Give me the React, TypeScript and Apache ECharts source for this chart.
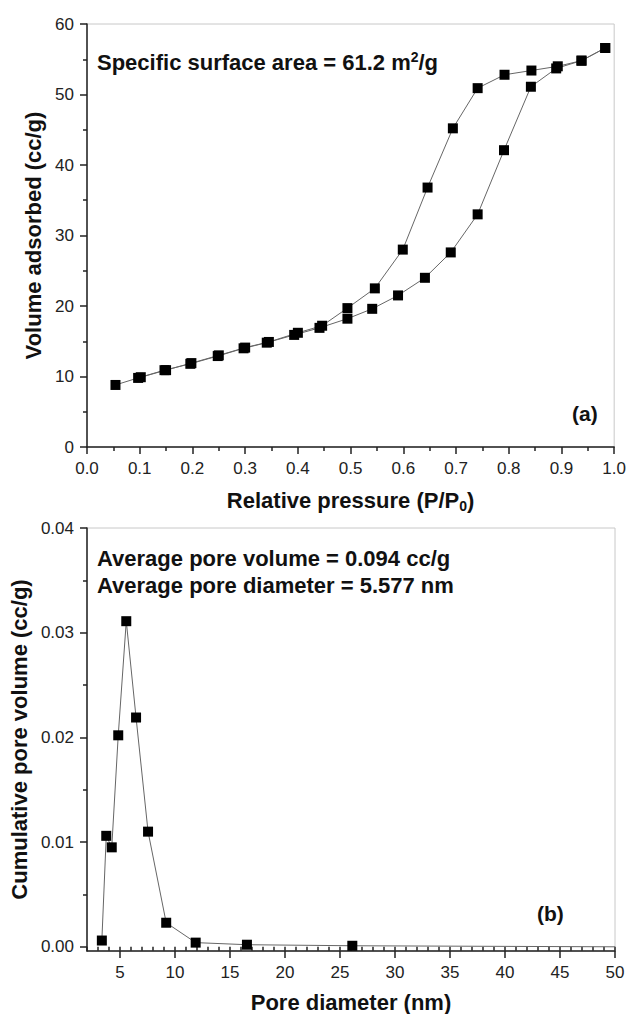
import React, { useEffect, useRef } from "react";
import * as echarts from "echarts";

// (a) N2 isotherm
const adsP = [0.054, 0.097, 0.147, 0.196, 0.248, 0.297, 0.341, 0.393, 0.441, 0.494, 0.541, 0.59, 0.641, 0.69, 0.741, 0.791, 0.842, 0.89, 0.938, 0.983];
const adsV = [8.8, 9.8, 10.9, 11.8, 12.9, 14.0, 14.8, 15.9, 16.9, 18.2, 19.6, 21.5, 24.0, 27.6, 33.0, 42.1, 51.1, 53.7, 54.8, 56.6];
const desP = [0.983, 0.938, 0.893, 0.843, 0.792, 0.741, 0.694, 0.646, 0.599, 0.546, 0.494, 0.446, 0.4, 0.345, 0.3, 0.25, 0.198, 0.15, 0.102];
const desV = [56.6, 54.8, 54.0, 53.4, 52.8, 50.9, 45.2, 36.8, 28.0, 22.5, 19.7, 17.2, 16.2, 14.9, 14.1, 13.0, 11.9, 10.9, 9.9];

// (b) pore size distribution
const poreD = [3.35, 3.75, 4.25, 4.84, 5.57, 6.46, 7.55, 9.2, 11.88, 16.54, 26.12, 50];
const poreV = [0.0006, 0.0106, 0.0095, 0.0202, 0.0311, 0.0219, 0.011, 0.0023, 0.0004, 0.0002, 0.0001, 0.0];

const poreXLabels = [5, 10, 15, 20, 25, 30, 35, 40, 45, 50];
const poreXMinor = Array.from({ length: 49 }, (_, i) => i + 2);
const poreYLabels = [0, 0.01, 0.02, 0.03, 0.04];
const poreYMinor = [0.005, 0.015, 0.025, 0.035];

const FONT = "'Liberation Sans', Arial, sans-serif";
const AXIS_COLOR = "#222";
const LABEL_COLOR = "#222";

export default function App() {
  const ref = useRef<HTMLDivElement>(null);

  useEffect(() => {
    document.body.style.margin = "0";
    if (!ref.current) return;
    const chart = echarts.init(ref.current, null, { renderer: "svg" });

    const axisLine = { show: true, onZero: false, lineStyle: { color: AXIS_COLOR, width: 1.5 } };
    const axisLabel = { color: LABEL_COLOR, fontSize: 17, fontFamily: FONT, margin: 13 };
    const nameStyle = { color: "#111", fontSize: 22, fontWeight: "bold", fontFamily: FONT };
    const majorTick = { show: true, inside: false, length: 7, lineStyle: { color: AXIS_COLOR, width: 1.5 } };
    const minorTick = { show: true, splitNumber: 2, length: 4, lineStyle: { color: AXIS_COLOR, width: 1.5 } };

    const lineSeries = (xs: number[], ys: number[], xi: number, yi: number, lastHidden = false) => ({
      type: "line",
      xAxisIndex: xi,
      yAxisIndex: yi,
      data: xs.map((x, i) =>
        lastHidden && i === xs.length - 1
          ? { value: [x, ys[i]], symbol: "none" }
          : [x, ys[i]]
      ),
      symbol: "rect",
      symbolSize: 10,
      itemStyle: { color: "#000" },
      lineStyle: { color: "#666", width: 1 },
      clip: true,
      z: 3,
    });

    const option: any = {
      animation: false,
      backgroundColor: "#fff",
      grid: [
        { left: 87, top: 24, width: 528, height: 423, show: true, borderColor: "#c8c8c8", borderWidth: 1, backgroundColor: "transparent" },
        { left: 87, top: 528, width: 528, height: 423, show: true, borderColor: "#c8c8c8", borderWidth: 1, backgroundColor: "transparent" },
      ],
      xAxis: [
        {
          gridIndex: 0,
          type: "value",
          min: 0,
          max: 1,
          interval: 0.1,
          position: "bottom",
          axisLine,
          axisTick: majorTick,
          minorTick,
          splitLine: { show: false },
          axisLabel: { ...axisLabel, formatter: (v: number) => v.toFixed(1) },
          name: "Relative pressure (P/P{sub|0})",
          nameLocation: "middle",
          nameGap: 40,
          nameTextStyle: {
            ...nameStyle,
            rich: { sub: { fontSize: 14, fontWeight: "bold", fontFamily: FONT, color: "#111", padding: [12, 0, 0, 0] } },
          },
        },
        {
          gridIndex: 1,
          type: "value",
          min: 2,
          max: 50,
          position: "bottom",
          axisLine,
          axisTick: { ...majorTick, customValues: poreXLabels },
          splitLine: { show: false },
          axisLabel: { ...axisLabel, customValues: poreXLabels },
          name: "Pore diameter (nm)",
          nameLocation: "middle",
          nameGap: 40,
          nameTextStyle: nameStyle,
        },
        {
          gridIndex: 1,
          type: "value",
          min: 2,
          max: 50,
          position: "bottom",
          axisLine: { show: false },
          axisTick: { show: true, length: 4, customValues: poreXMinor, lineStyle: { color: AXIS_COLOR, width: 1.5 } },
          splitLine: { show: false },
          axisLabel: { show: false },
        },
      ],
      yAxis: [
        {
          gridIndex: 0,
          type: "value",
          min: 0,
          max: 60,
          interval: 10,
          position: "left",
          axisLine,
          axisTick: majorTick,
          minorTick,
          splitLine: { show: false },
          axisLabel,
          name: "Volume adsorbed (cc/g)",
          nameLocation: "middle",
          nameGap: 40,
          nameTextStyle: nameStyle,
        },
        {
          gridIndex: 1,
          type: "value",
          min: -0.0004,
          max: 0.04,
          position: "left",
          axisLine,
          axisTick: { ...majorTick, customValues: poreYLabels },
          splitLine: { show: false },
          axisLabel: { ...axisLabel, customValues: poreYLabels, formatter: (v: number) => v.toFixed(2) },
          name: "Cumulative pore volume (cc/g)",
          nameLocation: "middle",
          nameGap: 52,
          nameTextStyle: nameStyle,
        },
        {
          gridIndex: 1,
          type: "value",
          min: -0.0004,
          max: 0.04,
          position: "left",
          axisLine: { show: false },
          axisTick: { show: true, length: 4, customValues: poreYMinor, lineStyle: { color: AXIS_COLOR, width: 1.5 } },
          splitLine: { show: false },
          axisLabel: { show: false },
        },
      ],
      series: [
        lineSeries(adsP, adsV, 0, 0),
        lineSeries(desP, desV, 0, 0),
        lineSeries(poreD, poreV, 1, 1, true),
      ],
      graphic: [
        {
          type: "text",
          left: 97,
          top: 50,
          style: {
            text: "Specific surface area = 61.2 m{sup|2}/g",
            font: `bold 22px ${FONT}`,
            fill: "#111",
            rich: { sup: { fontSize: 14, fontWeight: "bold", fontFamily: FONT, fill: "#111", padding: [0, 0, 10, 0] } },
          },
        },
        {
          type: "text",
          left: 97,
          top: 547,
          style: { text: "Average pore volume = 0.094 cc/g", font: `bold 22px ${FONT}`, fill: "#111" },
        },
        {
          type: "text",
          left: 97,
          top: 574,
          style: { text: "Average pore diameter = 5.577 nm", font: `bold 22px ${FONT}`, fill: "#111" },
        },
        {
          type: "text",
          left: 572,
          top: 403,
          style: { text: "(a)", font: `bold 21px ${FONT}`, fill: "#111" },
        },
        {
          type: "text",
          left: 537,
          top: 903,
          style: { text: "(b)", font: `bold 21px ${FONT}`, fill: "#111" },
        },
      ],
    };

    chart.setOption(option);
    return () => chart.dispose();
  }, []);

  return <div ref={ref} style={{ width: 629, height: 1014 }} />;
}
